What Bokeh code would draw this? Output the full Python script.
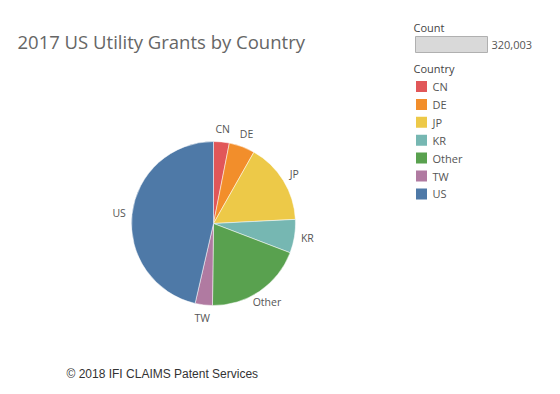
import math
from bokeh.plotting import figure
from bokeh.models import Range1d, ColumnDataSource
from bokeh.core.properties import value
from bokeh.embed import file_html
from bokeh.resources import INLINE

# ---- data ----
countries = ["CN", "DE", "JP", "KR", "Other", "TW", "US"]
counts = [9920, 16320, 51200, 21120, 62080, 10880, 148483]
colors = ["#e15759", "#f28e2b", "#edc948", "#76b7b2", "#59a14f", "#b07aa1", "#4e79a7"]
title_text = "2017 US Utility Grants by Country"
footer_text = "\u00a9 2018 IFI CLAIMS Patent Services"

W, H = 544, 386
def fx(ix):
    return ix
def fy(iy):
    return H - iy

p = figure(width=W, height=H, output_backend="svg", toolbar_location=None,
           x_range=Range1d(0, W), y_range=Range1d(0, H), min_border=0)
p.axis.visible = False
p.grid.visible = False
p.outline_line_color = None
p.background_fill_color = "white"

# ---- pie ----
cx, cy, r = fx(213), fy(223), 82
total = sum(counts)
starts, ends, lx, ly = [], [], [], []
cum = 0.0
for c in counts:
    a0 = math.pi / 2 - 2 * math.pi * cum / total
    cum += c
    a1 = math.pi / 2 - 2 * math.pi * cum / total
    starts.append(a0)
    ends.append(a1)
    mid = (a0 + a1) / 2
    lx.append(cx + 95 * math.cos(mid))
    ly.append(cy + 95 * math.sin(mid))

src = ColumnDataSource(dict(start=starts, end=ends, color=colors, name=countries, lx=lx, ly=ly))
p.wedge(x=cx, y=cy, radius=r, start_angle="start", end_angle="end", direction="clock",
        fill_color="color", line_color="white", line_width=0.5, source=src)
p.text(x="lx", y="ly", text="name", source=src, text_align="center", text_baseline="middle",
       text_font=value("Open Sans"), text_font_size="10.5px", text_color="#555555")

# ---- title & footer ----
p.text(x=[fx(17)], y=[fy(41)], text=[title_text], text_baseline="middle",
       text_font=value("Open Sans"), text_font_size="18.5px", text_color="#666666")
p.text(x=[fx(66)], y=[fy(373)], text=[footer_text], text_baseline="middle",
       text_font=value("Liberation Sans"), text_font_size="12px", text_color="#333333")

# ---- size legend ----
p.text(x=[fx(413)], y=[fy(27)], text=["Count"], text_baseline="middle",
       text_font=value("Open Sans"), text_font_size="11px", text_color="#444444")
p.quad(left=[fx(415)], right=[fx(487)], top=[fy(36)], bottom=[fy(52)],
       fill_color="#d9d9d9", line_color="#b0b0b0", line_width=1)
p.text(x=[fx(491)], y=[fy(44)], text=["{:,}".format(total)], text_baseline="middle",
       text_font=value("Open Sans"), text_font_size="11px", text_color="#555555")

# ---- color legend ----
p.text(x=[fx(413)], y=[fy(68)], text=["Country"], text_baseline="middle",
       text_font=value("Open Sans"), text_font_size="11px", text_color="#444444")
leg_y = [fy(86 + 17.9 * i) for i in range(len(countries))]
p.rect(x=[fx(421)] * len(countries), y=leg_y, width=11, height=11,
       fill_color=colors, line_color=None)
p.text(x=[fx(432)] * len(countries), y=leg_y, text=countries, text_baseline="middle",
       text_font=value("Open Sans"), text_font_size="11px", text_color="#555555")

open("out.html", "w").write(file_html(p, INLINE))
